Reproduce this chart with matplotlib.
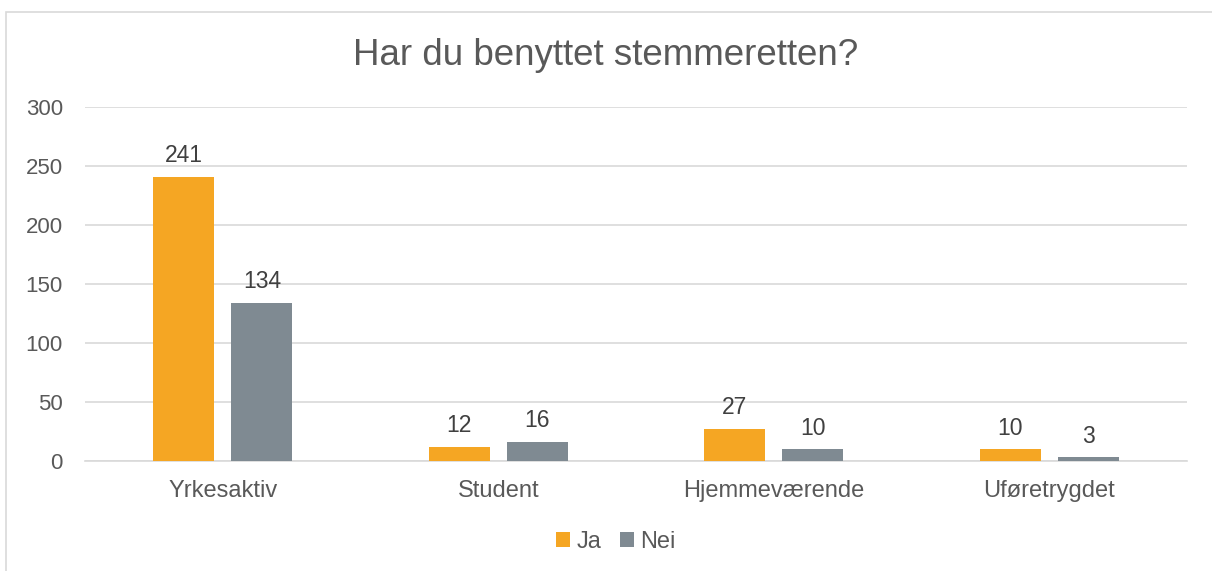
import matplotlib.pyplot as plt
import numpy as np
from matplotlib.patches import Rectangle

plt.rcParams['font.family'] = ['Liberation Sans', 'DejaVu Sans']

categories = ['Yrkesaktiv', 'Student', 'Hjemmeværende', 'Uføretrygdet']
ja = [241, 12, 27, 10]
nei = [134, 16, 10, 3]

text_col = '#595959'
grid_col = '#D9D9D9'
ja_col = '#F5A623'
nei_col = '#7F8A92'

fig = plt.figure(figsize=(12.12, 5.71), dpi=100)
ax = fig.add_axes([0.0701, 0.1926, 0.9093, 0.62])

# chart frame
fig.patches.append(Rectangle((6 / 1212, -0.05), 1.1, 1 - 12 / 571 + 0.05,
                             transform=fig.transFigure, fill=False,
                             edgecolor=grid_col, linewidth=1.2))

x = np.arange(len(categories))
w = 0.222
off = 0.142
b1 = ax.bar(x - off, ja, w, color=ja_col, label='Ja', zorder=3)
b2 = ax.bar(x + off, nei, w, color=nei_col, label='Nei', zorder=3)

for bars in (b1, b2):
    for r in bars:
        ax.annotate(f'{int(r.get_height())}',
                    (r.get_x() + r.get_width() / 2, r.get_height()),
                    xytext=(0, 7), textcoords='offset points',
                    ha='center', va='bottom', fontsize=16.5, color='#404040')

ax.set_xlim(-0.5, len(categories) - 0.5)
ax.set_ylim(0, 300)
ax.set_yticks(range(0, 301, 50))
ax.set_xticks(x)
ax.set_xticklabels(categories)
ax.yaxis.grid(True, color=grid_col, linewidth=1.2, zorder=0)
ax.set_axisbelow(True)
for s in ['top', 'right', 'left']:
    ax.spines[s].set_visible(False)
ax.spines['bottom'].set_color(grid_col)
ax.spines['bottom'].set_linewidth(1.2)
ax.tick_params(axis='both', length=0, colors=text_col)
ax.tick_params(axis='x', labelsize=17, pad=14)
ax.tick_params(axis='y', labelsize=16, pad=16)

fig.text(0.5, 0.903, 'Har du benyttet stemmeretten?', ha='center', va='center',
         fontsize=26.5, color=text_col)

fig.legend(handles=[b1, b2], loc='center', bbox_to_anchor=(0.508, 0.051),
           ncol=2, frameon=False, fontsize=17, labelcolor=text_col,
           handlelength=0.6, handleheight=0.6, handletextpad=0.25,
           columnspacing=0.8)

fig.savefig('out.png', dpi=100)
